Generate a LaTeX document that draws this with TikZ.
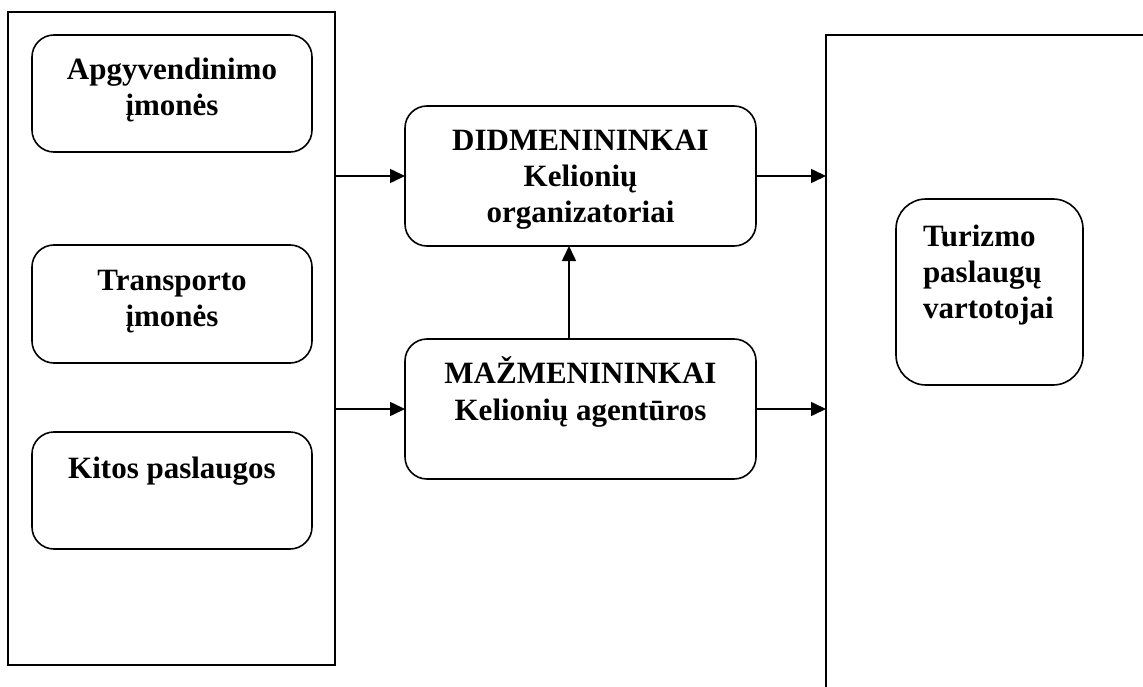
\documentclass[tikz,border=0pt]{standalone}
\usepackage{fontspec}
\setmainfont{Liberation Serif}
\usetikzlibrary{arrows.meta}
\tikzset{
  frame/.style={draw, line width=1.6pt, rectangle, inner sep=0pt, outer sep=0pt},
  rbox/.style={draw, line width=1.6pt, rectangle, rounded corners=22pt, inner sep=0pt, outer sep=0pt},
  lbl/.style={inner sep=0pt, outer sep=0pt, anchor=base, font=\bfseries\fontsize{31}{36}\selectfont},
  arr/.style={line width=1.6pt, -{Triangle[length=15pt,width=14pt]}}
}
\begin{document}
\begin{tikzpicture}[x=1pt,y=-1pt]
\useasboundingbox (0,0) rectangle (1143,687);
\clip (0,0) rectangle (1143,687);
% left frame
\node[frame, minimum width=327pt, minimum height=653pt] (left) at (171.5,338.5) {};
\node[rbox, minimum width=280pt, minimum height=117pt] (apg) at (172,93.5) {};
\node[rbox, minimum width=280pt, minimum height=118pt] (tra) at (172,304) {};
\node[rbox, minimum width=280pt, minimum height=117pt] (kit) at (172,490.5) {};
\node[lbl] (tapg) at (172,80) {\begin{tabular}[t]{@{}c@{}}Apgyvendinimo\\įmonės\end{tabular}};
\node[lbl] (ttra) at (172,290) {\begin{tabular}[t]{@{}c@{}}Transporto\\įmonės\end{tabular}};
\node[lbl] (tkit) at (172,478) {Kitos paslaugos};
% middle
\node[rbox, minimum width=351pt, minimum height=140pt] (did) at (580.5,176) {};
\node[rbox, minimum width=351pt, minimum height=140pt] (maz) at (580.5,409) {};
\node[lbl] (tdid) at (580.5,151) {\begin{tabular}[t]{@{}c@{}}DIDMENININKAI\\Kelionių\\organizatoriai\end{tabular}};
\node[lbl] (tmaz) at (580.5,383) {\begin{tabular}[t]{@{}c@{}}MAŽMENININKAI\\[1pt]Kelionių agentūros\end{tabular}};
% right frame
\node[frame, minimum width=374pt, minimum height=715pt] (cons) at (1013,392.5) {};
\node[rbox, rounded corners=30pt, minimum width=187pt, minimum height=186pt] (tur) at (989.5,292) {};
\node[lbl, anchor=base west] (ttur) at (923,246.7) {\begin{tabular}[t]{@{}l@{}}Turizmo\\paslaugų\\vartotojai\end{tabular}};
% connectors
\draw[arr] (left.east |- did.west) -- (did.west);
\draw[arr] (left.east |- maz.west) -- (maz.west);
\draw[arr] (did.east) -- (did.east -| cons.west);
\draw[arr] (maz.east) -- (maz.east -| cons.west);
\draw[arr] ([xshift=-11.5pt]maz.north) -- ([xshift=-11.5pt]did.south);
\end{tikzpicture}
\end{document}
